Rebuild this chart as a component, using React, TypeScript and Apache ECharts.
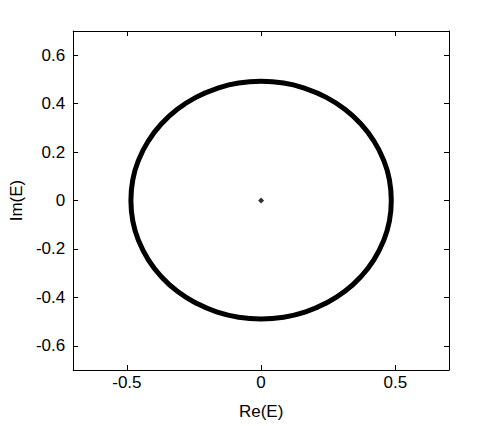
import React, { useEffect, useRef } from "react";
import * as echarts from "echarts";

// Eigenvalue ring (counter-clockwise from angle 0, every 10 degrees)
const ringRe = [
  0.485, 0.478, 0.456, 0.42, 0.372, 0.312, 0.243, 0.166, 0.084, 0, -0.084, -0.166, -0.243, -0.312, -0.372, -0.42, -0.456, -0.478, -0.485,
  -0.478, -0.456, -0.42, -0.372, -0.312, -0.243, -0.166, -0.084, 0, 0.084, 0.166, 0.243, 0.312, 0.372, 0.42, 0.456, 0.478, 0.485,
];
const ringIm = [
  0, 0.086, 0.168, 0.246, 0.316, 0.377, 0.426, 0.462, 0.485, 0.492, 0.485, 0.462, 0.426, 0.377, 0.316, 0.246, 0.168, 0.086, 0,
  -0.085, -0.167, -0.245, -0.314, -0.375, -0.423, -0.46, -0.482, -0.489, -0.482, -0.46, -0.423, -0.375, -0.314, -0.245, -0.167, -0.085, 0,
];
const centerRe = [0];
const centerIm = [0];
const xTicks = [-0.5, 0, 0.5];
const yTicks = [-0.6, -0.4, -0.2, 0, 0.2, 0.4, 0.6];

const font = "'Liberation Sans', Arial, Helvetica, sans-serif";

const fmt = (v: number) => {
  const r = Math.round(v * 10) / 10;
  return r === 0 ? "0" : String(r);
};

export default function App() {
  const ref = useRef<HTMLDivElement>(null);
  useEffect(() => {
    document.body.style.margin = "0";
    const chart = echarts.init(ref.current!, null, { renderer: "svg" });
    const axisCommon = {
      type: "value" as const,
      min: -0.7,
      max: 0.7,
      axisLine: { show: true, onZero: false, lineStyle: { color: "#000", width: 1 } },
      splitLine: { show: false },
    };
    const tick = (vals: number[]) => ({
      show: true,
      inside: true,
      length: 5,
      customValues: vals,
      lineStyle: { color: "#000", width: 1 },
    });
    const label = (vals: number[], margin: number) => ({
      fontFamily: font,
      fontSize: 17,
      color: "#000",
      margin,
      customValues: vals,
      formatter: (v: number) => fmt(v),
    });
    chart.setOption({
      animation: false,
      backgroundColor: "#fff",
      grid: { left: 73, top: 31, right: 47, bottom: 56, show: false },
      xAxis: [
        {
          ...axisCommon,
          position: "bottom",
          name: "Re(E)",
          nameLocation: "middle",
          nameGap: 33,
          nameTextStyle: { fontFamily: font, fontSize: 17, color: "#000" },
          axisTick: tick(xTicks),
          axisLabel: label(xTicks, 4),
        },
        {
          ...axisCommon,
          position: "top",
          axisTick: tick(xTicks),
          axisLabel: { show: false },
        },
      ],
      yAxis: [
        {
          ...axisCommon,
          position: "left",
          name: "Im(E)",
          nameLocation: "middle",
          nameGap: 48,
          nameRotate: 90,
          nameTextStyle: { fontFamily: font, fontSize: 17, color: "#000" },
          axisTick: tick(yTicks),
          axisLabel: label(yTicks, 8),
        },
        {
          ...axisCommon,
          position: "right",
          axisTick: tick(yTicks),
          axisLabel: { show: false },
        },
      ],
      series: [
        {
          type: "line",
          data: ringRe.map((x, i) => [x, ringIm[i]]),
          smooth: true,
          showSymbol: false,
          lineStyle: { color: "#000", width: 5 },
          xAxisIndex: 0,
          yAxisIndex: 0,
        },
        {
          type: "scatter",
          data: centerRe.map((x, i) => [x, centerIm[i]]),
          symbol: "diamond",
          symbolSize: 6,
          itemStyle: { color: "#000" },
          xAxisIndex: 0,
          yAxisIndex: 0,
        },
      ],
    });
    return () => chart.dispose();
  }, []);
  return <div ref={ref} style={{ width: 496, height: 426 }} />;
}
